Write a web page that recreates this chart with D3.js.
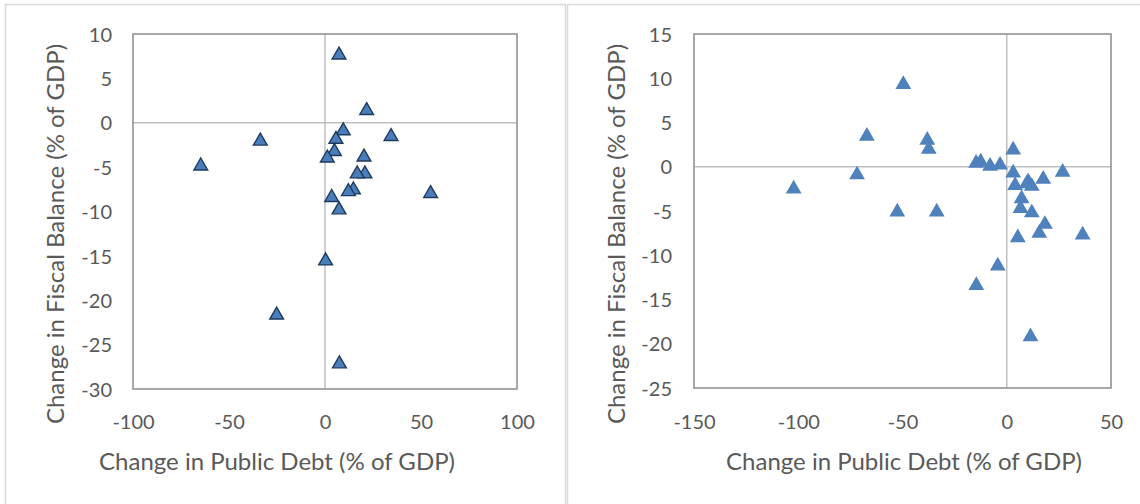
<!DOCTYPE html>
<html>
<head>
<meta charset="utf-8">
<script src="https://cdn.jsdelivr.net/npm/d3@7"></script>
<style>
  html, body { margin: 0; padding: 0; background: #ffffff; }
  svg { display: block; }
  text { font-family: Lato, "Open Sans", sans-serif; fill: #595959; }
</style>
</head>
<body>
<svg id="chart" width="1140" height="504"></svg>
<script>
// ---- Data ----
// Left panel
const leftDebt    = [7.3, 21.7, 9.5, 5.7, 34.4, -33.7, 4.9, 1.2, 20.3, -64.7, 20.8, 16.8, 14.8, 12.2, 55, 3.5, 7.3, 0.3, -25.2, 7.5];
const leftBalance = [7.8, 1.55, -0.74, -1.7, -1.38, -1.9, -3.07, -3.8, -3.7, -4.7, -5.6, -5.6, -7.4, -7.6, -7.8, -8.25, -9.65, -15.4, -21.5, -27];
const leftXTicks  = [-100, -50, 0, 50, 100];
const leftYTicks  = [10, 5, 0, -5, -10, -15, -20, -25, -30];

// Right panel
const rightDebt    = [-49.6, -67.1, -38.1, -37.4, 3.1, -14.7, -12.5, -8, -3.2, -71.8, -102.2, 3.1, 26.8, 17.5, 4, 9.6, 10.3, 12, 7.1, 6.6, 12, -52.5, -33.6, 18.3, 15.6, 36.4, 5.3, -4.3, -14.6, 11.4];
const rightBalance = [9.5, 3.67, 3.2, 2.2, 2.1, 0.6, 0.76, 0.27, 0.4, -0.7, -2.3, -0.5, -0.4, -1.2, -1.9, -1.7, -1.5, -2.0, -3.4, -4.5, -5.0, -4.9, -4.9, -6.3, -7.3, -7.5, -7.8, -11, -13.2, -19];
const rightXTicks  = [-150, -100, -50, 0, 50];
const rightYTicks  = [15, 10, 5, 0, -5, -10, -15, -20, -25];

const xTitle = "Change in Public Debt (% of GDP)";
const yTitle = "Change in Fiscal Balance (% of GDP)";

// ---- Drawing ----
const svg = d3.select("#chart");

// panel frames
svg.append("rect").attr("x", 5.5).attr("y", 4.5).attr("width", 560).attr("height", 520)
  .attr("fill", "none").attr("stroke", "#d9d9d9").attr("stroke-width", 1.5);
svg.append("rect").attr("x", 567.5).attr("y", 4.5).attr("width", 600).attr("height", 520)
  .attr("fill", "none").attr("stroke", "#d9d9d9").attr("stroke-width", 1.5);

function panel(cfg) {
  const g = svg.append("g");
  const x = d3.scaleLinear().domain(d3.extent(cfg.xTicks)).range([cfg.left, cfg.right]);
  const y = d3.scaleLinear().domain(d3.extent(cfg.yTicks)).range([cfg.bottom, cfg.top]);

  // zero lines
  g.append("line").attr("x1", x(0)).attr("x2", x(0)).attr("y1", cfg.top).attr("y2", cfg.bottom)
    .attr("stroke", "#bfbfbf").attr("stroke-width", 1.5);
  g.append("line").attr("x1", cfg.left).attr("x2", cfg.right).attr("y1", y(0)).attr("y2", y(0))
    .attr("stroke", "#bfbfbf").attr("stroke-width", 1.5);

  // plot border
  g.append("rect").attr("x", cfg.left).attr("y", cfg.top)
    .attr("width", cfg.right - cfg.left).attr("height", cfg.bottom - cfg.top)
    .attr("fill", "none").attr("stroke", "#8c8c8c").attr("stroke-width", 1.5);

  // axes (labels only, no tick lines)
  const fmt = d => String(d);
  const xAxis = g.append("g").attr("transform", `translate(0,${cfg.bottom})`)
    .call(d3.axisBottom(x).tickValues(cfg.xTicks).tickFormat(fmt).tickSize(0).tickPadding(0));
  xAxis.select(".domain").remove();
  xAxis.selectAll("text").attr("y", 428.5 - cfg.bottom).attr("dy", null)
    .style("font-size", "20px").style("font-family", "Lato, sans-serif").attr("fill", "#595959");

  const yAxis = g.append("g").attr("transform", `translate(${cfg.labelRight},0)`)
    .call(d3.axisLeft(y).tickValues(cfg.yTicks).tickFormat(fmt).tickSize(0).tickPadding(0));
  yAxis.select(".domain").remove();
  yAxis.selectAll("text").attr("x", 0).attr("dy", "0.36em")
    .style("font-size", "20px").style("font-family", "Lato, sans-serif").attr("fill", "#595959");

  // titles
  g.append("text").attr("x", cfg.xTitleX).attr("y", 470).attr("text-anchor", "middle")
    .style("font-size", "24px").text(xTitle);
  g.append("text").attr("transform", `translate(${cfg.yTitleX},234) rotate(-90)`)
    .attr("text-anchor", "middle").style("font-size", "24px").text(yTitle);

  // markers
  const tri = d3.symbol().type(d3.symbolTriangle).size(cfg.markerSize);
  const pts = cfg.xs.map((v, i) => [v, cfg.ys[i]]);
  g.append("g").selectAll("path").data(pts).join("path")
    .attr("d", tri)
    .attr("transform", d => `translate(${x(d[0])},${y(d[1]) + cfg.markerShift})`)
    .attr("fill", cfg.fill)
    .attr("stroke", cfg.stroke)
    .attr("stroke-width", cfg.strokeWidth);
}

panel({
  left: 133, right: 517, top: 34, bottom: 389, labelRight: 112,
  xTicks: leftXTicks, yTicks: leftYTicks, xs: leftDebt, ys: leftBalance,
  xTitleX: 277, yTitleX: 63.5,
  markerSize: 82, markerShift: 1.5,
  fill: "#4a7ebb", stroke: "#1f3a5f", strokeWidth: 1.4
});

panel({
  left: 694, right: 1111, top: 34, bottom: 388, labelRight: 672,
  xTicks: rightXTicks, yTicks: rightYTicks, xs: rightDebt, ys: rightBalance,
  xTitleX: 904, yTitleX: 624.5,
  markerSize: 108, markerShift: 1.8,
  fill: "#4f81bd", stroke: "none", strokeWidth: 0
});
</script>
</body>
</html>
